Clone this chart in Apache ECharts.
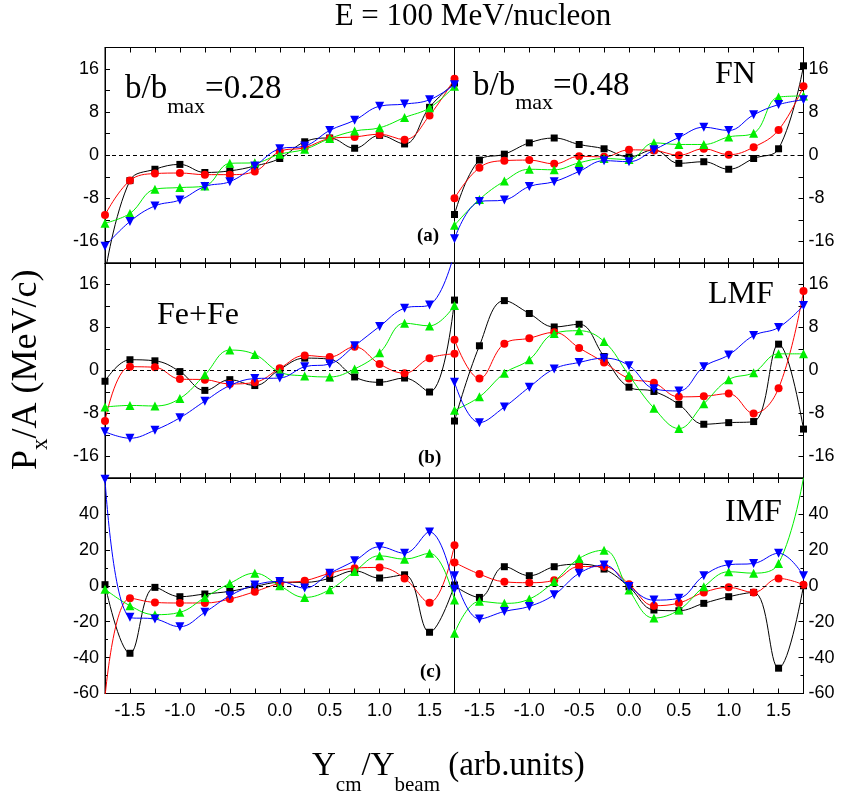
<!DOCTYPE html>
<html>
<head>
<meta charset="utf-8">
<title>Px/A vs Ycm/Ybeam, E = 100 MeV/nucleon</title>
<script src="https://cdn.jsdelivr.net/npm/echarts@6/dist/echarts.min.js"></script>
<style>
  html, body { margin: 0; padding: 0; background: #fff; }
  #chart { width: 842px; height: 799px; }
</style>
</head>
<body>
<div id="chart"></div>
<script>
// rapidity points (same for every panel)
const xValues = [-1.75, -1.5, -1.25, -1.0, -0.75, -0.5, -0.25, 0, 0.25, 0.5, 0.75, 1.0, 1.25, 1.5, 1.75]
const xTickValues = [-1.5, -1, -0.5, 0, 0.5, 1, 1.5]
const xTickLabels = ['-1.5', '-1.0', '-0.5', '0.0', '0.5', '1.0', '1.5']
const pxTicks = [-16, -8, 0, 8, 16]
const imfTicks = [-60, -40, -20, 0, 20, 40]

// FN, b/bmax = 0.28  (a)
const fn28Black = [-22, -4.7, -2.6, -1.7, -3.2, -2.9, -2.0, -0.6, 2.5, 3.2, 1.3, 3.7, 2.1, 8.9, 13.4]
const fn28Red = [-11.1, -4.7, -3.4, -3.3, -3.6, -3.6, -3.0, 0.7, 1.4, 3.1, 3.4, 3.9, 2.9, 7.4, 14.2]
const fn28Green = [-12.6, -10.8, -6.3, -6.0, -5.7, -1.5, -1.4, 0.2, 1.1, 3.1, 4.5, 5.1, 7.0, 8.8, 12.8]
const fn28Blue = [-16.9, -12.3, -9.4, -8.3, -5.8, -4.9, -2.0, 1.2, 1.7, 4.6, 6.5, 9.1, 9.5, 10.3, 13.1]
// FN, b/bmax = 0.48
const fn48Black = [-11.0, -0.9, 0.2, 2.3, 3.2, 2.0, 1.2, -0.3, 1.0, -1.5, -1.2, -2.6, -0.6, 1.2, 16.6]
const fn48Red = [-8.0, -2.3, -1.0, -0.9, -1.6, -0.2, -0.3, 1.0, 0.9, 0.0, 1.2, 0.1, 1.5, 4.7, 12.8]
const fn48Green = [-13.0, -8.2, -4.8, -2.6, -2.7, -1.4, -0.6, -0.8, 2.3, 2.0, 2.0, 3.4, 4.1, 10.8, 11.0]
const fn48Blue = [-15.5, -8.6, -8.3, -5.8, -4.9, -3.0, -1.0, -1.2, 1.0, 3.3, 5.2, 4.6, 7.5, 9.4, 10.3]
// LMF, b/bmax = 0.28  (b)
const lmf28Black = [-2.0, 2.0, 1.8, -0.2, -3.7, -1.7, -2.8, 0.2, 2.3, 2.1, -1.2, -2.2, -1.4, -4.0, 13.1]
const lmf28Red = [-9.4, 0.7, 0.6, -1.6, -1.7, -2.5, -2.2, 0.4, 2.8, 2.5, 4.4, 1.2, -0.5, 2.3, 3.1]
const lmf28Green = [-6.8, -6.5, -6.6, -5.2, -0.8, 3.8, 3.0, -0.3, -1.0, -1.2, 0.3, 3.3, 8.8, 8.3, 12.1]
const lmf28Blue = [-11.4, -12.6, -11.1, -8.8, -5.7, -2.8, -1.5, -1.4, 0.7, 1.2, 4.6, 8.2, 11.6, 12.2, 22]
// LMF, b/bmax = 0.48
const lmf48Black = [-9.4, 4.6, 13.0, 10.6, 8.1, 8.6, 2.6, -3.1, -3.9, -6.3, -10.0, -9.7, -9.5, 4.9, -10.9]
const lmf48Red = [5.7, -1.5, 5.0, 6.0, 7.1, 4.2, 1.5, -1.5, -2.3, -4.9, -4.8, -4.3, -8.0, -3.3, 14.8]
const lmf48Green = [-7.4, -4.9, -0.5, 2.0, 6.9, 7.4, 5.4, -0.9, -7.0, -10.8, -6.2, -1.7, -0.4, 3.1, 3.1]
const lmf48Blue = [-2.2, -9.7, -6.8, -3.1, 0.3, 1.5, 2.3, 0.9, -3.4, -3.8, 0.7, 2.9, 6.5, 8.0, 12.1]
// IMF, b/bmax = 0.28  (c)
const imf28Black = [0.6, -37.6, -0.9, -6.1, -4.6, -3.1, -0.4, 1.9, 1.9, 4.1, 8.3, 4.3, 6.1, -25.9, 0.4]
const imf28Red = [-62, -6.9, -9.3, -9.6, -9.6, -7.4, -3.3, 1.3, 2.8, 6.9, 9.8, 10.2, 4.1, -9.4, 22.6]
const imf28Green = [-1.9, -11.1, -16.1, -14.8, -6.5, 1.3, 7.0, 0.0, -6.5, -2.2, 8.0, 16.7, 14.8, 18.1, -8.0]
const imf28Blue = [59.3, -17.6, -18.5, -22.8, -14.8, -5.6, 0.4, 2.4, -1.3, 6.9, 13.9, 21.7, 18.1, 30.0, -2.0]
// IMF, b/bmax = 0.48
const imf48Black = [0.0, -6.5, 10.6, 5.6, 10.6, 12.0, 9.3, -0.6, -13.5, -13.9, -9.8, -6.1, -3.7, -45.9, 0.0]
const imf48Red = [13.0, 6.5, 2.2, 1.7, 3.1, 10.7, 10.6, 0.9, -11.1, -9.6, -3.7, -0.9, -3.7, 4.1, 0.6]
const imf48Green = [-26.5, -8.7, -9.8, -7.4, 2.4, 15.2, 19.8, -2.4, -18.0, -13.5, -0.6, 7.8, 7.0, 12.4, 60.2]
const imf48Blue = [5.6, -18.5, -14.3, -11.5, -5.0, 6.9, 11.5, -0.4, -8.0, -7.0, 5.6, 11.7, 12.4, 18.1, 5.6]

const panels = [
  { row: 0, col: 0, sets: [fn28Black, fn28Red, fn28Green, fn28Blue] },
  { row: 0, col: 1, sets: [fn48Black, fn48Red, fn48Green, fn48Blue] },
  { row: 1, col: 0, sets: [lmf28Black, lmf28Red, lmf28Green, lmf28Blue] },
  { row: 1, col: 1, sets: [lmf48Black, lmf48Red, lmf48Green, lmf48Blue] },
  { row: 2, col: 0, sets: [imf28Black, imf28Red, imf28Green, imf28Blue] },
  { row: 2, col: 1, sets: [imf48Black, imf48Red, imf48Green, imf48Blue] }
]

// black squares, red circles, green up-triangles, blue down-triangles
const markers = [
  { color: '#000000', symbol: 'rect', size: 7, rotate: 0 },
  { color: '#ff0000', symbol: 'circle', size: 8, rotate: 0 },
  { color: '#00ee00', symbol: 'triangle', size: 9, rotate: 0 },
  { color: '#0000ff', symbol: 'triangle', size: 9, rotate: 180 }
]

const colLeft = [105, 454.5]
const colWidth = [349.5, 349]
const rowTop = [47.5, 263, 478]
const rowHeight = [215.5, 215, 215.5]

const SANS = '"Liberation Sans", Arial, sans-serif'
const SERIF = '"Liberation Serif", "Times New Roman", serif'

const grid = []
const xAxis = []
const yAxis = []
const series = []

panels.forEach((p, i) => {
  grid.push({
    left: colLeft[p.col],
    top: rowTop[p.row],
    width: colWidth[p.col],
    height: rowHeight[p.row],
    show: true,
    borderColor: '#000',
    borderWidth: 1
  })

  // bottom + top x axes (ticks on both edges)
  ;['bottom', 'top'].forEach(pos => {
    xAxis.push({
      type: 'value',
      gridIndex: i,
      position: pos,
      min: -1.75,
      max: 1.75,
      interval: 0.25,
      axisLine: { show: true, onZero: false, lineStyle: { color: '#000', width: 1 } },
      axisTick: { show: true, inside: true, length: 5, lineStyle: { color: '#000' } },
      axisLabel: {
        show: pos === 'bottom' && p.row === 2,
        margin: 9,
        color: '#000',
        fontSize: 18,
        fontFamily: SANS,
        formatter: v => {
          const k = xTickValues.findIndex(t => Math.abs(t - v) < 1e-6)
          return k >= 0 ? xTickLabels[k] : ''
        }
      },
      splitLine: { show: false }
    })
  })

  const isImf = p.row === 2
  const ticks = isImf ? imfTicks : pxTicks
  yAxis.push({
    type: 'value',
    gridIndex: i,
    position: p.col === 0 ? 'left' : 'right',
    min: isImf ? -60 : -20,
    max: isImf ? 60 : 20,
    interval: isImf ? 20 : 4,
    axisLine: { show: true, onZero: false, lineStyle: { color: '#000', width: 1 } },
    axisTick: { show: true, inside: true, length: 5, lineStyle: { color: '#000' } },
    minorTick: { show: isImf, splitNumber: 2, length: 3, lineStyle: { color: '#000' } },
    axisLabel: {
      margin: p.col === 0 ? 6 : 5,
      color: '#000',
      fontSize: 18,
      fontFamily: SANS,
      formatter: v => (ticks.indexOf(v) >= 0 ? String(v) : '')
    },
    splitLine: { show: false }
  })

  p.sets.forEach((vals, k) => {
    const m = markers[k]
    const s = {
      type: 'line',
      xAxisIndex: 2 * i,
      yAxisIndex: i,
      data: xValues.map((x, j) => [x, vals[j]]),
      smooth: 0.4,
      symbol: m.symbol,
      symbolSize: m.size,
      symbolRotate: m.rotate,
      showAllSymbol: true,
      lineStyle: { color: m.color, width: 1 },
      itemStyle: { color: m.color },
      z: 3 + k
    }
    if (k === 0) {
      // dotted zero line
      s.markLine = {
        silent: true,
        symbol: 'none',
        label: { show: false },
        lineStyle: { color: '#000', type: [4, 3], width: 1 },
        data: [{ yAxis: 0 }]
      }
    }
    series.push(s)
  })
})

// text helpers: chain pieces (with subscripts) using measured widths
const measureCtx = document.createElement('canvas').getContext('2d')
function measure(text, font) {
  measureCtx.font = font
  return measureCtx.measureText(text).width
}
function textRun(x, y, parts, vertical) {
  const els = []
  let pos = 0
  parts.forEach(part => {
    const font = (part.bold ? 'bold ' : '') + part.size + 'px ' + SERIF
    const el = {
      type: 'text',
      z: 100,
      style: { text: part.text, font: font, fill: '#000', textAlign: 'left', verticalAlign: 'middle' }
    }
    if (vertical) {
      el.x = x + (part.shift || 0)
      el.y = y - pos
      el.rotation = Math.PI / 2
    } else {
      el.x = x + pos
      el.y = y + (part.shift || 0)
    }
    pos += measure(part.text, font)
    els.push(el)
  })
  return els
}

const graphic = [].concat(
  [{
    type: 'text', z: 100, x: 473, y: 16.5,
    style: { text: 'E = 100 MeV/nucleon', font: '31px ' + SERIF, fill: '#000', textAlign: 'center', verticalAlign: 'middle' }
  }],
  textRun(125, 89, [{ text: 'b/b', size: 33 }, { text: 'max', size: 22, shift: 18.5 }, { text: '=0.28', size: 33 }]),
  textRun(473, 86, [{ text: 'b/b', size: 33 }, { text: 'max', size: 22, shift: 17.5 }, { text: '=0.48', size: 33 }]),
  textRun(715, 75, [{ text: 'FN', size: 32 }]),
  textRun(157, 316, [{ text: 'Fe+Fe', size: 32 }]),
  textRun(708, 295, [{ text: 'LMF', size: 32 }]),
  textRun(725, 513, [{ text: 'IMF', size: 32 }]),
  textRun(417, 236.5, [{ text: '(a)', size: 19, bold: true }]),
  textRun(418, 458.5, [{ text: '(b)', size: 19, bold: true }]),
  textRun(420, 672, [{ text: '(c)', size: 19, bold: true }]),
  textRun(312, 766, [
    { text: 'Y', size: 33 },
    { text: 'cm', size: 21, shift: 19 },
    { text: '/Y', size: 33 },
    { text: 'beam', size: 21, shift: 19 },
    { text: ' (arb.units)', size: 33 }
  ]),
  textRun(27, 470, [
    { text: 'P', size: 36 },
    { text: 'x', size: 23, shift: 14 },
    { text: '/A (MeV/c)', size: 36 }
  ], true)
)

const chart = echarts.init(document.getElementById('chart'), null, { renderer: 'canvas' })
chart.setOption({
  backgroundColor: '#ffffff',
  animation: false,
  grid,
  xAxis,
  yAxis,
  series,
  graphic
})
</script>
</body>
</html>
